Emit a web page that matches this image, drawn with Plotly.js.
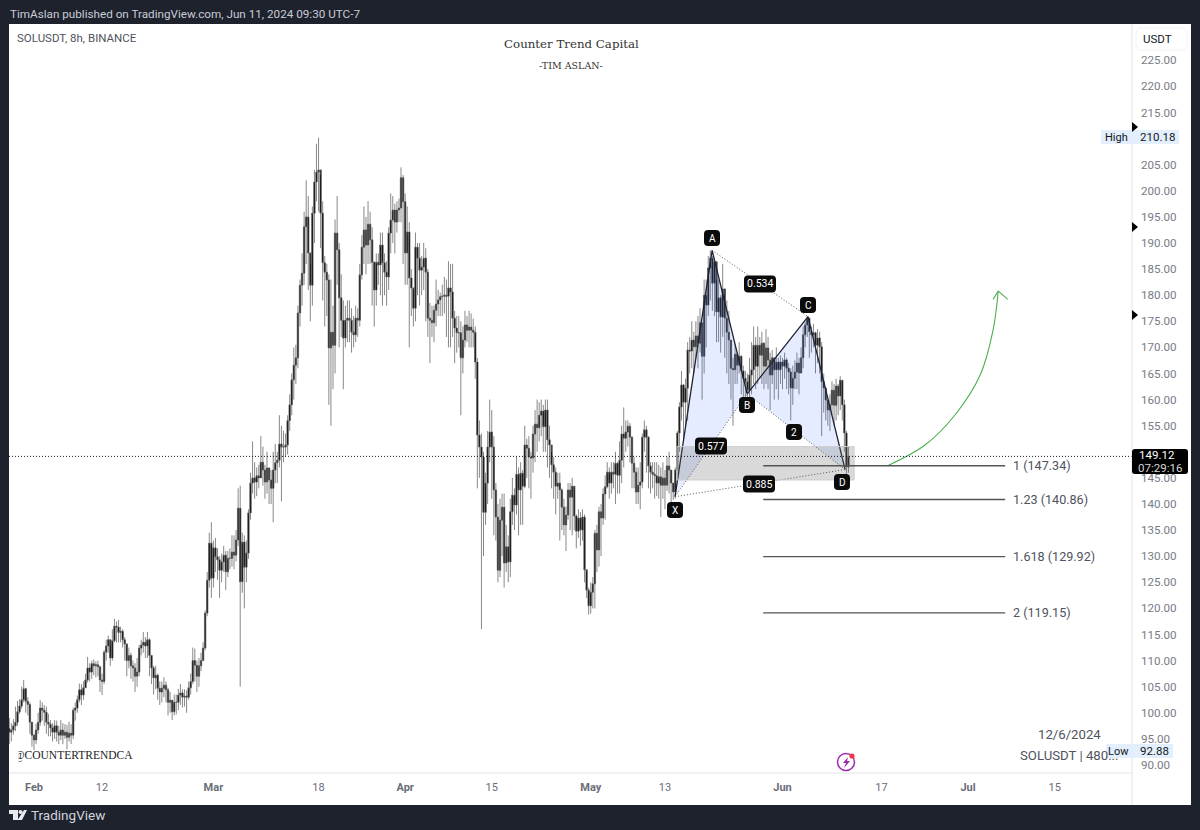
<!DOCTYPE html>
<html><head><meta charset="utf-8">
<script src="https://cdn.plot.ly/plotly-3.0.1.min.js"></script>
<style>html,body{margin:0;padding:0;background:#1e222d}</style></head>
<body><div id="chart" style="width:1200px;height:830px"></div>
<script>
const startBar = '2024-01-28T00:00:00Z';
const barHours = 8;
const openPrice = [
97,96.3,96.7,97.5,98.2,100.2,101.3,102.5,104.6,102.2,
101.6,98.2,95.7,94.8,96.7,98.2,100.9,100.5,100.1,98.2,
97.8,97.1,96.3,97.5,96.3,95.7,96.7,95.7,96.3,95.3,
96.1,95.7,100.5,100.9,102.5,104.4,103.4,104.8,106.3,108.6,
107.8,109.4,109,109.2,108.8,106.3,106,111.6,112.8,114,
110.5,113.8,116.6,116.4,115.4,115.6,114,113.2,110,111,
109,108.6,107,107.8,112.4,113,113.5,112.8,114,111,
108.6,106.7,107.2,104.7,104,104.7,105.3,104.4,102,102.4,
100.2,102,102,103.4,103.8,103,103.2,103,104.8,106,
110,109.1,107,109,110,112.4,119.1,125.4,132.5,125.8,
131.6,129.9,129.3,127.3,128.9,130.2,127,129.6,129.6,130.8,
130.2,133.1,139.2,125.1,132.7,127.9,130.6,138.3,144,145,
144.2,145.4,145,148,146.5,144.2,146.9,144.6,143,146.5,
147.9,148.4,151.5,150.9,150.9,151.3,156,159,163.8,166.6,
168,176.6,181.9,184.2,193.1,195,188.1,181.9,195.7,201.7,
203.6,204,195.7,186.2,184.4,182.9,169.9,172.9,170.4,191.9,
188.7,179.5,175.2,171.8,175.2,175.6,175.2,172.9,172.4,175.6,
175.2,183.9,189.2,192.5,189.6,193.6,190.6,186.3,181,186.3,
185.8,189.6,186.2,184.4,183.5,191.9,194.4,196.3,194,196.3,
196.7,202.5,197.9,188.1,192.1,183.3,181.4,177.5,189.2,187.1,
184.8,185.4,187.1,184.4,175.6,175.2,174.7,177.1,178.3,179.1,
179.7,179.8,180,179.8,181.4,180.6,175.6,173.7,172.8,172.8,
168,171.4,174.3,173.3,173.9,173.3,172.9,167.2,153.2,150.9,
149,138.4,144,150.9,153.8,150.9,142.7,137.5,127.3,136.9,
139.4,128.7,131.8,128.9,138.5,141.7,139.8,145.7,142.7,145.9,
143.4,151.3,150.7,149,148.8,153.4,155.3,154.6,157,157.8,
154.8,158,152.3,151.3,147.5,146.1,143.4,144,142.7,139.4,
136,137.9,142.7,141.3,143.4,137.7,134.8,137.3,135,137.5,
127.4,123.5,120.5,123.1,124.7,134.4,131.2,138.5,137.3,141.9,
143.3,146.1,144,146.1,145.7,147.8,145.5,148.4,153.4,152.6,
153.8,154.9,152.8,147.8,146.1,142.3,143.6,144.2,152.8,154.2,
152.8,147.3,146.1,145.7,145.4,144,145.2,143.6,145,143.6,
147.3,146.5,144,142.3,146.5,153.6,158.6,162.8,159.5,162.2,
169.5,169.3,171.4,170.1,172.2,170.8,174.7,168.3,180,178.1,
185.2,187.1,182.3,186.4,176.8,179.5,175.8,181.2,175.6,172.9,
171.4,166,165.7,168.7,166.6,168.3,165.5,164.1,163.4,161.8,
164.7,165.7,170.4,166.4,170.4,168.5,170.8,166.4,169.9,167.6,
164.7,168,165.7,167.2,165.7,167.2,166.4,167.6,166,165.3,
162.2,164.1,165.3,167,165.1,168,172.4,174.3,175.6,173,
172.4,172.8,170.4,171.8,170.1,163.4,162.2,159.9,158,159,
161.8,158.9,162.6,160.7,163.7,159,153.6,147.1];
const highPrice = [
99,98,98.8,101.2,102.3,102.6,105,106.3,104.8,103,
102,98,96,97.9,100,102.4,102,101.5,101.2,99.8,
98.6,98,98.6,98.5,97.5,98.6,98,97.8,97.7,98.3,
97.8,101,102,103.3,105.6,105.5,106,107.5,110.7,109.5,
110,110.2,109.8,110,109,107.5,112,114,114.8,113,
116,118,117.5,117.8,116.5,116,114.5,113,112.5,111.5,
110,109.5,110.5,113,114,115.5,114.5,115.5,114.3,111,
109,109,107.5,106,106,106.8,106,104.8,104,102.5,
103.5,103.5,104.6,105.5,104.5,104.5,104.3,106,107.5,112.5,
112.3,110,110.5,111.5,113.5,119.6,127,134.5,136.5,133,
133.5,131.5,130,130.5,132,131,131,131.5,134,134,
135,143,143.5,134.5,134,133,139,146,152,148,
147,147.5,153,151,147.5,150,147,146.5,150,151.5,
150,157,155,154,153.5,157,161,165,170,170.5,
178,183,188,196,202,199,186,197,204,209,
210.18,203,198,187.5,186,184,183,178,194.5,199,
190,184,179,178,179,179,177.5,176,178,177.5,
186,191.5,197,195,198,196,193,186.5,188,188,
192,192,188,186.5,193,199.5,199,197.5,198,198.5,
204.5,203,199.5,197,194,185,181,192,190,190,
187.5,190,189,185,178.5,178,178,183,181,180.5,
182,183.5,183,186.5,186,186,177,176,176,175,
174,177,176,177,176.5,175.5,174,168,156,153.5,
150,146,154,160,158,153,144,140,141,142,
142,136,134,141,145,143,149,147,148,146.5,
155,152.5,153,150,155,158,160,159.5,160,159,
160,160,155,150,149,147,146,146,143,141,
139.5,144,144,145,143,138,139,138.5,139,138,
127,124,125,126,135,136,139.5,140,143,145.5,
148,147,148,148,150,148,152,155,158.5,156,
156,155.5,153,149,147,147,148,153.5,156,155,
153,148,148,148,148,147.5,147,148,146.5,149,
150,146.5,144,147,154,159.5,165.5,163,164,171,
172,175,173,175,176,177.5,172,183,183,187.5,
188.6,187.5,187,183,183,180,186,180,179,177,
171,168,170.5,169,171,168.5,166.5,165.5,165,168,
171,174,172,174,172,173,171,173.5,172,169,
169.5,168,170,168,168.5,168,169,168,167,166,
166.5,167.5,169,168,170,174,175,176,175.5,174,
174.5,173,173.5,173,171,165,162,160,161,163.5,
163,164,163,164.5,163.5,160,154,151];
const lowPrice = [
94,94.5,95.8,96.5,97.5,99.8,100.8,102,100,99.5,
96,93.5,92.88,94,96,97.5,98.5,97.5,96,95.5,
95.5,94.5,95,94.5,94,94.8,94,95,93,94.5,
94,95,98.5,100,102,101.5,102.5,105,105.8,106,
106.5,107.2,106.8,107,104,103.4,105.5,110,111.5,109,
110,113.5,113.5,113.5,113.5,112.5,110,107,108.5,106.5,
106,104,105,107,111,111.5,110.5,110.5,107,105.5,
103.5,104.5,102.5,101.5,102,103,102,99.5,100,98.6,
99.5,99.7,100.5,101.5,101,101.2,100,102.5,103.5,105.5,
106,104,105,108,110,112,118.5,124,122,124,
127,125.5,122,125,127,123.5,126,127.5,128,127.5,
129,132,105,123,120,125,129.5,137,142,141,
141.5,143,145,143.5,141,142,140,140,136.5,144,
144,147,140.5,148,149,149.5,154,157,160,163,
166,174,178,182,186,181,175,178,190,198,
196,189,179,174,176,159,155,162,165,182,
170,172,162,170,171,171,169,170,171,172,
174,183,186,184,186,186,178,174,178,182,
180,178,180,178,181,188,190,188,192,194,
194,186,182,182,170,176,174,175,180,178,
180,181,175,172,167,172,171,174,176,176,
176,176.5,172,170,170,172,167,169,170,157,
165,170,171,170,170,170,164,143,145,116,
130,136,140,148,141,134,133,125,126,130,
124,127,125,126,136,135,138,134,136,136,
143,145,143,141,146,148,150,152,153,150,
150,147,145,143,141,138,141,133,135,134,
131,137,135,134,135,131.5,133.5,132,133,125,
122,118.8,119,120,120,127,128,130,136,137,
143,141,142,143,140,142,142,144,147,150,
151,148,143,143,140,140,139,143,150,146,
143,142,143,141,141.5,141,137.5,141,139,142.5,
142,140,140.8,141,145,150,156,152,155,156,
165,166,165,168,166,169,160,165,170,176,
179,177,176,171,171,169,172,168,165,163,
160,155,163,163,165,161,158,160,158,160,
161,163,162,163,164,163,162,163,162,158,
163,160,162,160,163,162,164,162,161,156,
159,162,162,161,165,166,170,172,168,169,
170,165,167,165,153,157.5,156,155,154,157,
155,156,157,158,156,150,145,146];
const closePrice = [
96.3,96.7,97.5,98.2,100.2,101.3,102.5,104.6,102.2,101.6,
98.2,95.7,94.8,96.7,98.2,100.9,100.5,100.1,98.2,97.8,
97.1,96.3,97.5,96.3,95.7,96.7,95.7,96.3,95.3,96.1,
95.7,100.5,100.9,102.5,104.4,103.4,104.8,106.3,108.6,107.8,
109.4,109,109.2,108.8,106.3,106,111.6,112.8,114,110.5,
113.8,116.6,116.4,115.4,115.6,114,113.2,110,111,109,
108.6,107,107.8,112.4,113,113.5,112.8,114,111,108.6,
106.7,107.2,104.7,104,104.7,105.3,104.4,102,102.4,100.2,
102,102,103.4,103.8,103,103.2,103,104.8,106,110,
109.1,107,109,110,112.4,119.1,125.4,132.5,125.8,131.6,
129.9,129.3,127.3,128.9,130.2,127,129.6,129.6,130.8,130.2,
133.1,139.2,125.1,132.7,127.9,130.6,138.3,144,145,144.2,
145.4,145,148,146.5,144.2,146.9,144.6,143,146.5,147.9,
148.4,151.5,150.9,150.9,151.3,156,159,163.8,166.6,168,
176.6,181.9,184.2,193.1,195,188.1,181.9,195.7,201.7,203.6,
204,195.7,186.2,184.4,182.9,169.9,172.9,170.4,191.9,188.7,
179.5,175.2,171.8,175.2,175.6,175.2,172.9,172.4,175.6,175.2,
183.9,189.2,192.5,189.6,193.6,190.6,186.3,181,186.3,185.8,
189.6,186.2,184.4,183.5,191.9,194.4,196.3,194,196.3,196.7,
202.5,197.9,188.1,192.1,183.3,181.4,177.5,189.2,187.1,184.8,
185.4,187.1,184.4,175.6,175.2,174.7,177.1,178.3,179.1,179.7,
179.8,180,179.8,181.4,180.6,175.6,173.7,172.8,172.8,168,
171.4,174.3,173.3,173.9,173.3,172.9,167.2,153.2,150.9,149,
138.4,144,150.9,153.8,150.9,142.7,137.5,127.3,136.9,139.4,
128.7,131.8,128.9,138.5,141.7,139.8,145.7,142.7,145.9,143.4,
151.3,150.7,149,148.8,153.4,155.3,154.6,157,157.8,154.8,
158,152.3,151.3,147.5,146.1,143.4,144,142.7,139.4,136,
137.9,142.7,141.3,143.4,137.7,134.8,137.3,135,137.5,127.4,
123.5,120.5,123.1,124.7,134.4,131.2,138.5,137.3,141.9,143.3,
146.1,144,146.1,145.7,147.8,145.5,148.4,153.4,152.6,153.8,
154.9,152.8,147.8,146.1,142.3,143.6,144.2,152.8,154.2,152.8,
147.3,146.1,145.7,145.4,144,145.2,143.6,145,143.6,147.3,
146.5,144,142.3,146.5,153.6,158.6,162.8,159.5,162.2,169.5,
169.3,171.4,170.1,172.2,170.8,174.7,168.3,180,178.1,185.2,
187.1,182.3,186.4,176.8,179.5,175.8,181.2,175.6,172.9,171.4,
166,165.7,168.7,166.6,168.3,165.5,164.1,163.4,161.8,164.7,
165.7,170.4,166.4,170.4,168.5,170.8,166.4,169.9,167.6,164.7,
168,165.7,167.2,165.7,167.2,166.4,167.6,166,165.3,162.2,
164.1,165.3,167,165.1,168,172.4,174.3,175.6,173,172.4,
172.8,170.4,171.8,170.1,163.4,162.2,159.9,158,159,161.8,
158.9,162.6,160.7,163.7,159,153.6,147.1,149.12];

const priceTicks = [90,95,100,105,110,115,120,125,130,135,140,145,155,160,165,170,175,180,185,190,195,200,205,215,220,225];
const timeTickDates = ['2024-02-01','2024-02-12','2024-03-01','2024-03-18','2024-04-01','2024-04-15','2024-05-01','2024-05-13','2024-06-01','2024-06-17','2024-07-01','2024-07-15'];
const timeTickLabels = ['Feb','12','Mar','18','Apr','15','May','13','Jun','17','Jul','15'];
const boldTicks = ['Feb','Mar','Apr','May','Jun','Jul'];

const lastPrice = 149.12;
const patternNames = ['X','A','B','C','D'];
const patternDates = ['2024-05-14 15:00','2024-05-20 15:00','2024-05-26 07:00','2024-06-05 03:00','2024-06-11 03:00'];
const patternPrices = [141.4,188.6,161.1,175.9,146.6];
const zoneDates = ['2024-05-14 23:00','2024-06-12 14:00'];
const zonePrices = [144.6,151];
const fibLevels = [147.34,140.86,129.92,119.15];
const fibLabels = ['1 (147.34)','1.23 (140.86)','1.618 (129.92)','2 (119.15)'];
const fibDates = ['2024-05-28 21:00','2024-07-07 00:00'];
const arrowDates = ['2024-06-17 22:00','2024-06-24 01:00','2024-06-28 22:00','2024-07-02 23:00','2024-07-05 01:00','2024-07-05 21:00'];
const arrowPrices = [147.3,151.3,157.1,164.7,173.3,180.8];
const arrowHeadDates = ['2024-07-05 01:00','2024-07-05 21:00','2024-07-07 10:00'];
const arrowHeadPrices = [179.2,180.8,179.2];

const t0 = Date.parse(startBar);
const barDates = closePrice.map((_, i) => new Date(t0 + i * barHours * 3600e3).toISOString().slice(0,16).replace('T',' '));
const ink = '#1e2230';
const pick = (arr, idx) => idx.map(i => arr[i]);

const traces = [
  {type:'candlestick', x:barDates, open:openPrice, high:highPrice, low:lowPrice, close:closePrice,
   increasing:{line:{color:'#555555',width:0.7}, fillcolor:'#000'},
   decreasing:{line:{color:'#555555',width:0.7}, fillcolor:'#000'},
   whiskerwidth:0, hoverinfo:'skip', showlegend:false},
  {type:'scatter', mode:'lines', x:pick(patternDates,[0,1,2,0]), y:pick(patternPrices,[0,1,2,0]), fill:'toself', fillcolor:'rgba(41,98,255,0.12)', line:{width:0}, hoverinfo:'skip', showlegend:false},
  {type:'scatter', mode:'lines', x:pick(patternDates,[2,3,4,2]), y:pick(patternPrices,[2,3,4,2]), fill:'toself', fillcolor:'rgba(41,98,255,0.12)', line:{width:0}, hoverinfo:'skip', showlegend:false},
  {type:'scatter', mode:'lines', x:patternDates, y:patternPrices, line:{color:ink,width:1.3}, hoverinfo:'skip', showlegend:false},
  ...[[1,3],[0,2],[2,4],[0,4]].map(p => ({type:'scatter', mode:'lines', x:pick(patternDates,p), y:pick(patternPrices,p), line:{color:'#555',width:1,dash:'1px,2px'}, hoverinfo:'skip', showlegend:false})),
  {type:'scatter', mode:'lines', x:arrowDates, y:arrowPrices, line:{color:'#4caf50',width:1.1,shape:'spline'}, hoverinfo:'skip', showlegend:false},
  {type:'scatter', mode:'lines', x:arrowHeadDates, y:arrowHeadPrices, line:{color:'#4caf50',width:1.1}, hoverinfo:'skip', showlegend:false}
];

const PX = x => (x-9)/1123, PY = y => 1-(y-24)/749;
const sans = 'Roboto, Inter, sans-serif', serif = '"DejaVu Serif", serif', thinSerif = '"Liberation Serif", serif';
const T = (text,x,y,o={}) => ({text, xref:'paper', yref:'paper', x:PX(x), y:PY(y), xanchor:o.a||'left', yanchor:'middle', showarrow:false, borderpad:0,
  font:{family:o.f||sans, size:o.s||12, color:o.c||'#50535e'}});
const R = (x0,y0,x1,y1,fill,o={}) => ({type:'rect', xref:'paper', yref:'paper', x0:PX(x0), x1:PX(x1), y0:PY(y0), y1:PY(y1), fillcolor:fill, line:{width:o.w||0,color:o.lc||fill}, layer:o.layer||'above'});
const RR = (x0,y0,x1,y1,r,fill,o={}) => {
  const a=PX(x0),b=PX(x1),c=PY(y0),d=PY(y1),rx=r/1123,ry=r/749;
  return {type:'path', xref:'paper', yref:'paper', fillcolor:fill, line:{width:o.w||0,color:o.lc||fill}, layer:'above',
    path:`M ${a+rx},${c} L ${b-rx},${c} Q ${b},${c} ${b},${c-ry} L ${b},${d+ry} Q ${b},${d} ${b-rx},${d} L ${a+rx},${d} Q ${a},${d} ${a},${d+ry} L ${a},${c-ry} Q ${a},${c} ${a+rx},${c} Z`};
};
const POLY = (pts,fill) => ({type:'path', xref:'paper', yref:'paper', fillcolor:fill, line:{width:0}, layer:'above',
  path:'M '+pts.map(p=>PX(p[0])+','+PY(p[1])).join(' L ')+' Z'});
const C = (cx,cy,r,fill,lc,w) => ({type:'circle', xref:'paper', yref:'paper', x0:PX(cx-r), x1:PX(cx+r), y0:PY(cy+r), y1:PY(cy-r), fillcolor:fill, line:{color:lc||fill,width:w||0}, layer:'above'});

const darkTags = [['A',712,238,16],['C',808,305,16],['B',747,405,16],['D',842,482,16],['X',675,510,16],['0.534',760,284,32],['0.577',711,446,32],['0.885',759,484,32],['2',794,432,16]];

const shapes = [
  R(9,24,1191,805,'#ffffff',{layer:'below'}),
  {type:'rect', xref:'x', yref:'y', x0:zoneDates[0], x1:zoneDates[1], y0:zonePrices[0], y1:zonePrices[1], fillcolor:'rgba(110,110,110,0.26)', line:{color:'#cfcfcf',width:1}, layer:'above'},
  {type:'line', xref:'paper', yref:'y', x0:0, x1:1, y0:lastPrice, y1:lastPrice, line:{color:'#131722',width:1,dash:'1px,2px'}, layer:'above'},
  ...fibLevels.map(v => ({type:'line', xref:'x', yref:'y', x0:fibDates[0], x1:fibDates[1], y0:v, y1:v, line:{color:'#555',width:1.4}, layer:'above'})),
  R(1131.5,24,1132.5,805,'#e0e3eb'),
  R(9,772.5,1132,773.5,'#e0e3eb'),
  RR(1136,28,1187,50,5,'#ffffff',{w:1,lc:'#f0f3fa'}),
  R(1101,130,1179,144,'#e3effd'),
  R(1106,744,1173,758,'#e3effd'),
  RR(1132,449,1188,474,3,'#000000'),
  POLY([[1132,122],[1138,127],[1132,132]],'#000000'),
  POLY([[1132,222],[1138,227],[1132,232]],'#000000'),
  POLY([[1132,310],[1138,315],[1132,320]],'#000000'),
  ...darkTags.map(t => RR(t[1]-t[3]/2,t[2]-(t[3]>20?8.5:8),t[1]+t[3]/2,t[2]+(t[3]>20?8.5:8),4,'#0b0b0b')),
  C(846,762,8.5,'rgba(0,0,0,0)','#9c27b0',1.5),
  POLY([[848,757],[843,763],[846,763],[844,768],[850,761],[847,761]],'#9c27b0'),
  C(852,756,2.6,'#f23645'),
  POLY([[9,810],[18,810],[18,820],[13,820],[13,814],[9,814]],'#e8eaf0'),
  C(20.5,812,2,'#e8eaf0'),
  POLY([[24,810],[27,810],[22,820],[17.5,820]],'#e8eaf0')
];

const annotations = [
  T('TimAslan published on TradingView.com, Jun 11, 2024 09:30 UTC-7',9,13.5,{c:'#c9ccd6',s:11.7}),
  T('SOLUSDT, 8h, BINANCE',16,38,{s:11.5}),
  T('Counter Trend Capital',571,44,{a:'center',f:serif,s:11.8,c:'#333'}),
  T('-TIM ASLAN-',571,65,{a:'center',f:serif,s:9.5,c:'#333'}),
  T('@COUNTERTRENDCA',12.5,755,{f:thinSerif,s:11.5,c:'#222'}),
  {text:'&nbsp;', xref:'paper', yref:'paper', x:PX(9), y:PY(755), xanchor:'left', yanchor:'middle', width:8, height:16, bgcolor:'#ffffff', showarrow:false, borderpad:0},
  T('12/6/2024',1069,734,{a:'center',s:13.2}),
  T('SOLUSDT | 480...',1019,755,{s:13.2}),
  T('USDT',1157,39,{a:'center',c:'#131722',s:11.5}),
  T('High',1116,137,{a:'center',c:'#131722',s:11}),
  T('210.18',1157,137,{a:'center',c:'#131722',s:11.5}),
  T('Low',1118,751,{a:'center',c:'#131722',s:11}),
  T('92.88',1154,751,{a:'center',c:'#131722',s:11.5}),
  T('149.12',1157,455,{a:'center',c:'#ffffff',s:11.5}),
  T('07:29:16',1160,468,{a:'center',c:'#d6d6d6',s:11.5}),
  ...fibLabels.map((s,i) => ({text:s, xref:'paper', yref:'y', x:PX(1012), y:fibLevels[i], xanchor:'left', yanchor:'middle', showarrow:false, borderpad:0, font:{family:sans,size:12.6,color:'#50535e'}})),
  ...darkTags.map(t => T(t[0],t[1],t[2],{a:'center',c:'#ffffff',s:t[3]>20?10.5:10})),
  T('TradingView',30,815,{c:'#d1d4dc',s:13.5})
];

const layout = {
  width:1200, height:830, autosize:false,
  margin:{l:9,r:68,t:24,b:57,pad:0},
  paper_bgcolor:'#1e222d', plot_bgcolor:'#ffffff',
  showlegend:false, hovermode:false, dragmode:false, boxgap:0.02,
  font:{family:sans},
  xaxis:{type:'date', range:['2024-01-27 23:00','2024-07-27 12:00'], rangeslider:{visible:false}, showgrid:false, zeroline:false, showline:false,
    tickmode:'array', tickvals:timeTickDates,
    ticktext:timeTickLabels.map(s => boldTicks.includes(s) ? '<b>'+s+'</b>' : s),
    ticks:'', ticklabelstandoff:6, tickfont:{size:11,color:'#6a6d78',family:sans}},
  yaxis:{side:'right', range:[88.47,231.95], showgrid:false, zeroline:false, showline:false,
    tickmode:'array', tickvals:priceTicks, ticktext:priceTicks.map(v => v.toFixed(2)),
    ticks:'', ticklabelstandoff:8, tickfont:{size:11.6,color:'#787b86',family:sans}},
  shapes, annotations
};
Plotly.newPlot('chart', traces, layout, {displayModeBar:false, staticPlot:true});
</script></body></html>
